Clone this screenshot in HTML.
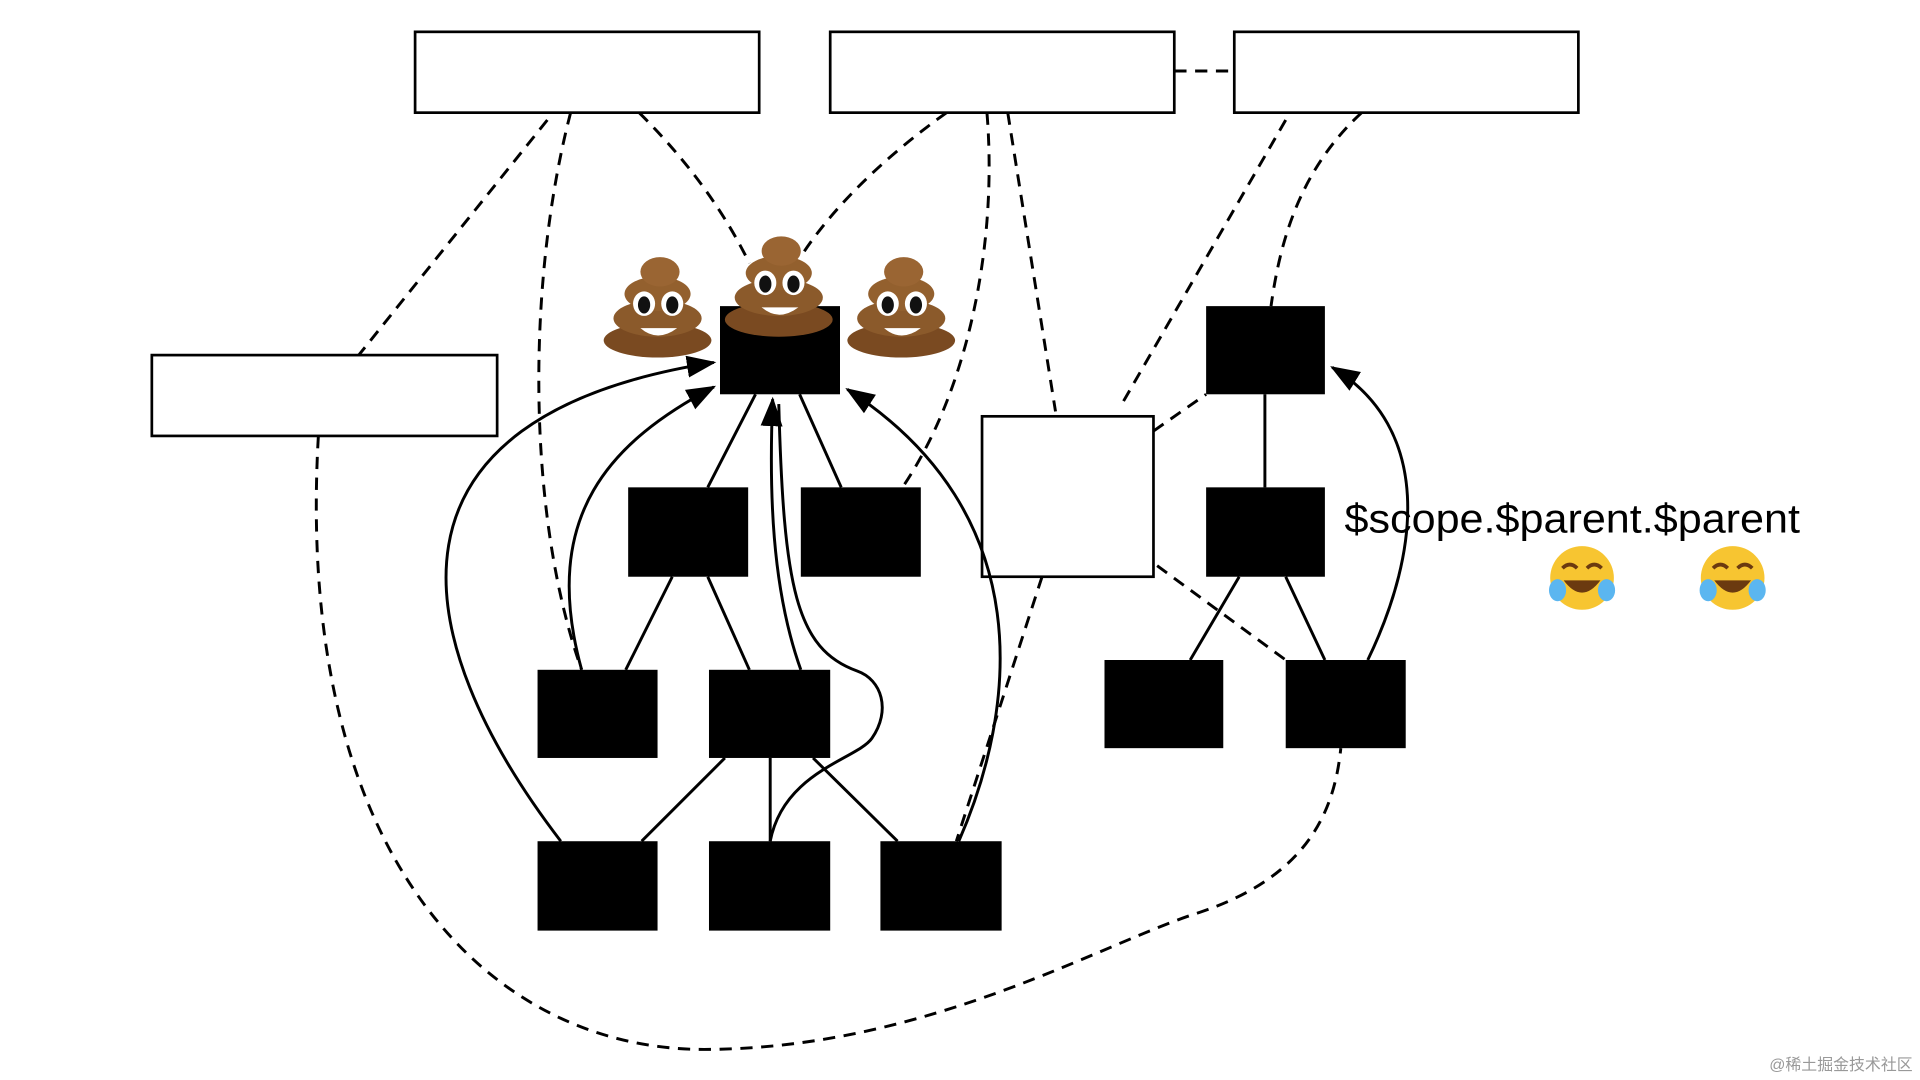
<!DOCTYPE html>
<html><head><meta charset="utf-8"><style>html,body{margin:0;padding:0;background:#fff;}svg{display:block}</style></head>
<body>
<svg width="1920" height="1080" viewBox="0 0 1568 882" preserveAspectRatio="none" xmlns="http://www.w3.org/2000/svg">
<defs>
<marker id="arb" markerWidth="24" markerHeight="24" refX="22" refY="12" orient="auto" markerUnits="userSpaceOnUse" viewBox="0 0 24 24">
<path d="M0,3 L24,12 L0,21 z" fill="#000"/></marker>
<g id="poo">
<ellipse cx="0" cy="30" rx="44" ry="14" fill="#7a4a21"/>
<ellipse cx="0" cy="12" rx="36" ry="15" fill="#8b5a2b"/>
<ellipse cx="0" cy="-8" rx="27" ry="14" fill="#93602e"/>
<ellipse cx="2" cy="-26" rx="16" ry="12" fill="#9a6533"/>
<ellipse cx="-11" cy="0" rx="9" ry="10" fill="#fff"/><ellipse cx="-11" cy="1" rx="5" ry="7" fill="#111"/>
<ellipse cx="12" cy="0" rx="9" ry="10" fill="#fff"/><ellipse cx="12" cy="1" rx="5" ry="7" fill="#111"/>
<path d="M-14,20 Q0,32 16,20 Z" fill="#fff"/>
</g>
<g id="lol">
<circle r="26" fill="#f7c531"/>
<path d="M-16,-8 q6,-6 12,0 M4,-8 q6,-6 12,0" stroke="#6b3a10" stroke-width="3" fill="none"/>
<path d="M-15,2 Q0,22 15,2 Z" fill="#6b3a10"/>
<ellipse cx="-20" cy="10" rx="7" ry="9" fill="#5bb6f0"/><ellipse cx="20" cy="10" rx="7" ry="9" fill="#5bb6f0"/>
</g>
</defs>
<g fill="#fff" stroke="#000" stroke-width="2.2">
<rect x="339" y="26" width="281" height="66"/>
<rect x="678" y="26" width="281" height="66"/>
<rect x="1008" y="26" width="281" height="66"/>
<rect x="124" y="290" width="282" height="66"/>
<rect x="802" y="340" width="140" height="131"/>
</g>
<g fill="none" stroke="#000" stroke-width="2.4" stroke-dasharray="10,7">
<line x1="959" y1="58" x2="1008" y2="58"/>
<line x1="447" y1="98" x2="293" y2="290"/>
<path d="M466,92 C430,230 430,420 475,547"/>
<path d="M522,92 C560,130 590,170 612,215"/>
<path d="M773,92 C720,130 680,170 655,208"/>
<path d="M806,92 C815,200 790,320 737,398"/>
<line x1="823" y1="92" x2="862" y2="336"/>
<line x1="1050" y1="98" x2="915" y2="332"/>
<path d="M1112,92 C1060,140 1045,200 1038,250"/>
<line x1="942" y1="352" x2="985" y2="322"/>
<line x1="945" y1="462" x2="1050" y2="539"/>
<line x1="851" y1="471" x2="781" y2="687"/>
<path d="M260,356 C240,700 400,860 580,857 C760,855 900,770 980,745 C1070,715 1090,660 1095,611"/>
</g>
<g stroke="#000" stroke-width="2.4" fill="none">
<line x1="617" y1="322" x2="578" y2="398"/>
<line x1="653" y1="322" x2="687" y2="398"/>
<line x1="549" y1="471" x2="511" y2="547"/>
<line x1="578" y1="471" x2="612" y2="547"/>
<line x1="592" y1="619" x2="524" y2="687"/>
<line x1="629" y1="619" x2="629" y2="687"/>
<line x1="664" y1="619" x2="733" y2="687"/>
<line x1="1033" y1="322" x2="1033" y2="398"/>
<line x1="1012" y1="471" x2="972" y2="539"/>
<line x1="1050" y1="471" x2="1082" y2="539"/>
<path d="M458,687 C330,520 300,340 583,296" marker-end="url(#arb)"/>
<path d="M475,547 C440,420 500,360 583,316" marker-end="url(#arb)"/>
<path d="M654,547 C630,480 628,400 631,326" marker-end="url(#arb)"/>
<path d="M629,687 C640,630 700,620 712,603 C728,580 720,555 700,548 C650,530 640,480 636,330"/>
<path d="M783,687 C830,580 850,420 692,318" marker-end="url(#arb)"/>
<path d="M1117,539 C1160,450 1170,350 1088,300" marker-end="url(#arb)"/>
</g>
<g fill="#000">
<rect x="588" y="250" width="98" height="72"/>
<rect x="513" y="398" width="98" height="73"/>
<rect x="654" y="398" width="98" height="73"/>
<rect x="439" y="547" width="98" height="72"/>
<rect x="579" y="547" width="99" height="72"/>
<rect x="439" y="687" width="98" height="73"/>
<rect x="579" y="687" width="99" height="73"/>
<rect x="719" y="687" width="99" height="73"/>
<rect x="985" y="250" width="97" height="72"/>
<rect x="985" y="398" width="97" height="73"/>
<rect x="902" y="539" width="97" height="72"/>
<rect x="1050" y="539" width="98" height="72"/>
</g>
<use href="#poo" x="537" y="248"/>
<use href="#poo" x="636" y="231"/>
<use href="#poo" x="736" y="248"/>
<text x="1098" y="435" font-family="Liberation Sans, sans-serif" font-size="33" fill="#000" textLength="372" lengthAdjust="spacingAndGlyphs">$scope.$parent.$parent</text>
<use href="#lol" x="1292" y="472"/>
<use href="#lol" x="1415" y="472"/>
<text x="1562" y="874" text-anchor="end" font-family="Liberation Sans, 'Noto Sans CJK SC', sans-serif" font-size="13" fill="#999">@稀土掘金技术社区</text>
</svg>
</body></html>
